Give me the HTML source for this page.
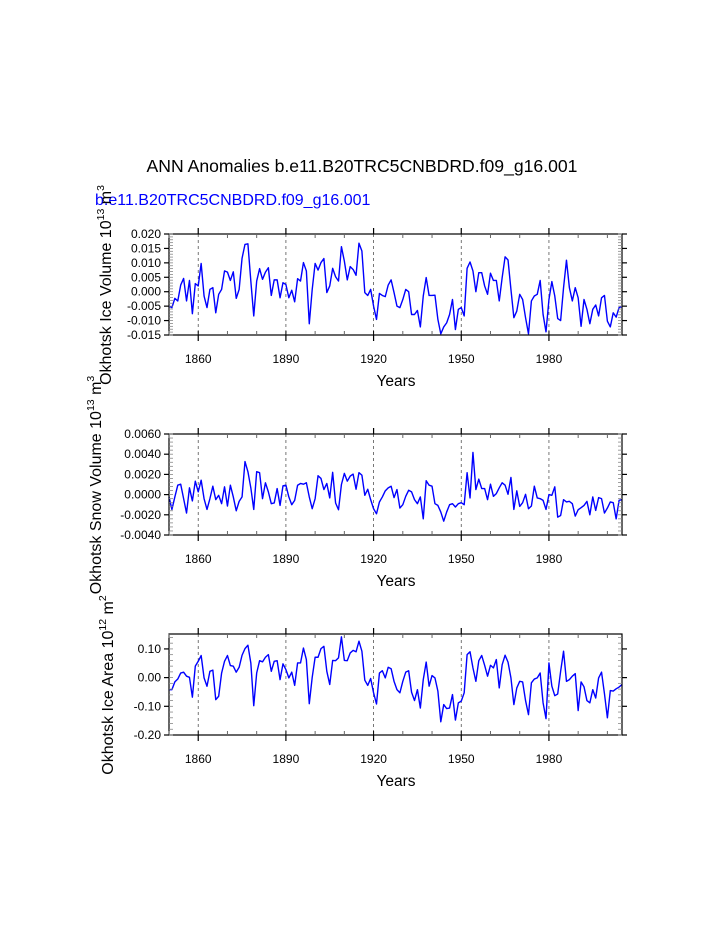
<!DOCTYPE html>
<html><head><meta charset="utf-8"><style>
html,body{margin:0;padding:0;background:#fff;}
svg{display:block;font-family:"Liberation Sans",sans-serif;}
</style></head><body>
<svg id="chart" width="723" height="935" viewBox="0 0 723 935" xmlns="http://www.w3.org/2000/svg">
<text x="362" y="172" font-size="17.6" text-anchor="middle">ANN Anomalies b.e11.B20TRC5CNBDRD.f09_g16.001</text>
<text x="95" y="205" font-size="16" fill="#0000ff">b.e11.B20TRC5CNBDRD.f09_g16.001</text>
<g id="plots"></g>
</svg>
<script>
const startYear = 1850;
const xTicks = [1860, 1890, 1920, 1950, 1980];
const iceVolume = [-5.0,-5.5,-2.3,-3.2,2.3,4.6,-3.2,3.9,-7.6,2.8,
2.0,9.8,-1.5,-5.5,0.8,1.4,-7.3,-0.9,0.8,7.2,
6.8,3.9,6.9,-2.3,0.8,11.6,16.4,16.6,3.7,-8.4,
3.7,8.0,4.3,6.8,8.3,-1.3,4.1,4.1,-2.1,3.1,
2.5,-2.1,0.5,-3.5,4.5,3.7,10.1,7.2,-11.1,0.8,
9.8,7.5,10.1,11.5,-0.3,2.0,8.1,5.2,3.7,15.6,
10.6,4.1,8.7,7.7,5.7,16.8,14.1,-0.3,-1.3,0.8,
-5.0,-9.6,-0.6,-1.3,-1.7,2.3,4.1,-0.3,-5.0,
-5.5,-2.7,0.8,0,-7.9,-7.9,-6.5,-12.2,-1.5,4.9,
-1.3,-1.3,-1.2,-9.6,-14.6,-12.2,-10.8,-7.9,-2.7,-13.1,
-6.1,-5.5,-8.4,8.1,10.3,7.2,0,6.6,6.6,2.0,
-0.9,6.4,3.9,3.9,-3.2,4.9,12.1,11.0,0.8,-9.0,
-6.7,-0.9,-2.7,-9.0,-14.6,-3.2,-1.5,-0.9,3.9,-7.9,
-13.9,-2.7,3.5,-1.5,-9.3,-10.0,1.4,10.9,1.4,-3.2,
1.4,-2.1,-12.0,-2.7,-6.1,-11.1,-6.1,-4.6,-8.4,-2.1,
-1.3,-10.2,-12.2,-7.3,-8.8,-5.5,-5.1].map(v=>v/1000);
const snowVolume = [-2.3,-14.7,-2.3,9.3,10.3,-4,-18.3,6.7,-6.3,13.3,
2.7,14.3,-4,-14.7,-4,8.3,-5,-0.7,-9,7.7,
-11.3,9.3,-2.3,-16,-6.7,-2.3,32.7,22.7,6.7,-14.7,
22.7,21.7,-4,11.7,2.7,-9,-8.3,6,-10.7,8.7,
9.3,-2.3,-10,-5.7,9.3,11,10.3,11.7,-2.3,-14,
-4,18.7,16,5,11,-3.3,22,-8.3,-15,10,
21,13.3,18.3,20.3,5.3,21.7,19.3,-0.7,5.3,-5,
-14,-19,-7.3,-2.3,3.7,6.7,8.3,-3,5,
-13.3,-10,-1.7,4.3,2.7,-5,-9,-2.3,-24,13.7,
9.3,8.3,-9,-10.7,-17.3,-26.3,-17.3,-10,-9,-12.3,
-9,-8,-10,21.7,-3.3,41.7,5,15.3,6,6,
-5,10.3,-1.7,1,6.7,11.7,9.3,0.3,17,-14.7,
3.7,-11.7,-8,0.3,-14,-11.3,8.3,-3.3,-4,-5.7,
-14.7,0,-0.7,7.7,-22.3,-20.7,-5,-7.3,-6.7,-9,
-21.3,-15,-13,-10.7,-6.7,-20,-2.3,-15.7,-3,-4,
-18.3,-13.3,-7.3,-8,-24,-5.7,-5].map(v=>v/10000);
const iceArea = [-4.2,-4.2,-1.5,-0.5,1.6,1.9,0.5,0.1,-6.8,4.0,
5.7,7.7,-0.1,-3.0,2.2,2.6,-7.7,-6.5,1.6,5.7,
7.7,4.2,4.0,1.9,3.6,7.8,10.1,11.3,5.1,-9.8,
1.6,5.9,5.5,7.1,8.0,2.2,5.7,5.9,-0.7,4.8,
2.8,-0.1,1.9,-2.7,5.1,5.1,10.3,6.3,-9.1,0.1,
7.1,7.1,10.1,10.9,2.2,-2.4,6.0,5.9,6.9,14.2,
6.0,5.9,8.6,9.5,9.0,12.7,9.2,-0.9,-2.7,-0.3,
-5.3,-9.2,1.6,2.4,-0.1,3.6,3.1,-1.3,-4.2,
-5.3,-1.3,1.9,2.4,-5.1,-8.0,-4.2,-10.6,-0.7,5.4,
-3.0,0.7,-0.1,-4.7,-15.4,-9.4,-10.8,-10.6,-5.9,-14.8,
-8.8,-8.2,-5.3,8.0,9.0,3.4,-1.3,5.9,7.7,4.3,
0.5,4.3,3.4,6.3,-3.6,4.5,7.8,5.4,-0.1,-9.4,
-3.6,-1.3,-1.5,-8.0,-12.9,-1.8,-0.5,-0.1,1.6,-8.8,
-14.3,5.1,-3.0,-6.3,-5.7,2.2,9.2,-1.3,-0.7,0.5,
1.4,-11.5,-1.5,-3.2,-8.0,-8.8,-4.2,-7.1,-0.1,1.9,
-5.6,-14.0,-4.5,-4.7,-3.9,-3.3,-2.4].map(v=>v/100);
const volTicks = ["0.020","0.015","0.010","0.005","0.000","-0.005","-0.010","-0.015"];
const snowTicks = ["0.0060","0.0040","0.0020","0.0000","-0.0020","-0.0040"];
const areaTicks = ["0.10","0.00","-0.10","-0.20"];

const NS="http://www.w3.org/2000/svg";
const root=document.getElementById('plots');
function mk(tag,attrs,parent){const e=document.createElementNS(NS,tag);for(const k in attrs)e.setAttribute(k,attrs[k]);(parent||root).appendChild(e);return e;}

const X0=169,X1=622,XMIN=1850,XMAX=2005;
function xs(yr){return X0+(yr-XMIN)/(XMAX-XMIN)*(X1-X0);}

function panel(name,data,ticks,ymin,ymax,minorStep,top,bot,titleMain,sup,unit,unitSup,titleCy,titleX){
  const g=mk('g',{});
  
  
  const ys=v=>bot-(v-ymin)/(ymax-ymin)*(bot-top);
  xTicks.forEach(t=>{const l=mk('line',{x1:xs(t),x2:xs(t),y1:top,y2:bot,stroke:'#555','stroke-width':0.8,'stroke-dasharray':'3,3'},g);
    
    });
  let d='';data.forEach((v,i)=>{d+=(i?'L':'M')+xs(startYear+i).toFixed(2)+','+ys(v).toFixed(2);});
  const p=mk('path',{d:d,fill:'none',stroke:'#0000ff','stroke-width':1.4,'stroke-linejoin':'round'},g);
  
  
  const f=mk('rect',{x:X0,y:top,width:X1-X0,height:bot-top,fill:'none',stroke:'#000','stroke-width':1.2},g);
  
  
  for(let yr=1850;yr<=2005;yr+=5){
    const x=xs(yr); const major=xTicks.includes(yr); const mid=(yr%10===0);
    if(major){mk('line',{x1:x,x2:x,y1:bot,y2:bot+6,stroke:'#000','stroke-width':1.2},g);mk('line',{x1:x,x2:x,y1:top,y2:top-6,stroke:'#000','stroke-width':1.2},g);
      mk('line',{x1:x,x2:x,y1:bot,y2:bot-4,stroke:'#000','stroke-width':1},g);}
    else if(mid){mk('line',{x1:x,x2:x,y1:bot,y2:bot-4,stroke:'#666','stroke-width':1},g);mk('line',{x1:x,x2:x,y1:top,y2:top+4,stroke:'#666','stroke-width':1},g);}
  }
  xTicks.forEach(t=>{const tx=mk('text',{x:xs(t),y:bot+28,'font-size':12,'text-anchor':'middle'},g);tx.textContent=t;
    
    });
  const xt=mk('text',{x:396,y:bot+51,'font-size':15.5,'text-anchor':'middle'},g);xt.textContent='Years';
  
  
  ticks.forEach(t=>{const v=parseFloat(t);const y=ys(v);
    mk('line',{x1:X0-5,x2:X0,y1:y,y2:y,stroke:'#000','stroke-width':1.2},g);
    mk('line',{x1:X1,x2:X1+5,y1:y,y2:y,stroke:'#000','stroke-width':1.2},g);
    const tx=mk('text',{x:X0-8,y:y+4,'font-size':12,'text-anchor':'end'},g);tx.textContent=t;
    
    });
  const n=Math.round((ymax-ymin)/minorStep);
  for(let i=0;i<=n;i++){const y=ys(ymin+i*minorStep);if(y<top-0.5)continue;
    mk('line',{x1:X0,x2:X0+4,y1:y,y2:y,stroke:'#888','stroke-width':0.8},g);
    mk('line',{x1:X1-4,x2:X1,y1:y,y2:y,stroke:'#888','stroke-width':0.8},g);}
  const yt=mk('text',{transform:'translate('+titleX+','+titleCy+') rotate(-90)','font-size':16,'text-anchor':'middle'},g);
  
  
  yt.innerHTML=titleMain+'<tspan dy="-7" font-size="10.5">'+sup+'</tspan><tspan dy="7"> '+unit+'</tspan><tspan dy="-7" font-size="10.5">'+unitSup+'</tspan>';
}
panel('ice-volume',iceVolume,volTicks,-0.015,0.020,0.001,234,335,'Okhotsk Ice Volume 10','13','m','3',285,111);
panel('snow-volume',snowVolume,snowTicks,-0.004,0.006,0.0004,434,535,'Okhotsk Snow Volume 10','13','m','3',485,101);
panel('ice-area',iceArea,areaTicks,-0.20,0.152,0.02,634,735,'Okhotsk Ice Area 10','12','m','2',685,113);
</script>
</body></html>
